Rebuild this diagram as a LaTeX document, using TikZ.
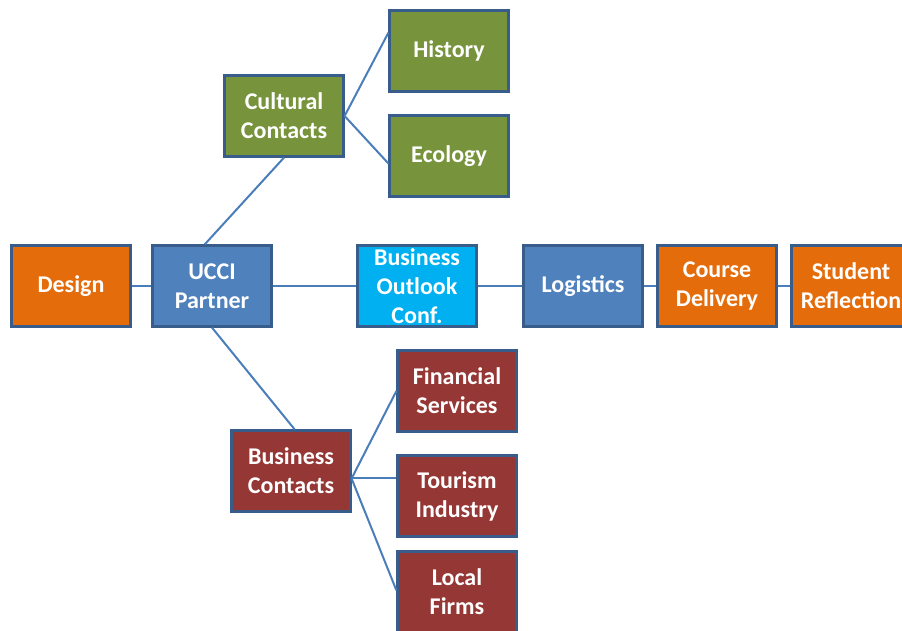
\documentclass[tikz,border=0pt]{standalone}
\usepackage{fontspec}
\setmainfont{Carlito}
\usetikzlibrary{calc}

\definecolor{borderblue}{HTML}{385D8A}
\definecolor{linkblue}{HTML}{4A7EBB}
\definecolor{boxorange}{HTML}{E46C0A}
\definecolor{boxblue}{HTML}{4F81BD}
\definecolor{boxcyan}{HTML}{00B0F0}
\definecolor{boxgreen}{HTML}{77933C}
\definecolor{boxred}{HTML}{953735}

\tikzset{
  stagebox/.style={draw=borderblue, line width=2.2pt, minimum width=119pt,
    minimum height=81pt, inner sep=0pt, text=white, align=center,
    font=\fontsize{24}{29}\selectfont\bfseries},
  link/.style={draw=linkblue, line width=2pt}
}

\begin{document}
\begin{tikzpicture}[x=1pt,y=-1pt]
    \useasboundingbox (0,0) rectangle (902,631);
    \clip (0,0) rectangle (902,631);

    % Main row
    \node[stagebox, fill=boxorange] (design) at (71,286) {Design};
    \node[stagebox, fill=boxblue] (ucci) at (212,286) {UCCI\\Partner};
    \node[stagebox, fill=boxcyan] (outlook) at (417,286) {Business\\Outlook\\Conf.};
    \node[stagebox, fill=boxblue] (logistics) at (583,286) {Logistics};
    \node[stagebox, fill=boxorange] (course) at (717,286) {Course\\Delivery};
    \node[stagebox, fill=boxorange] (reflection) at (851,286) {Student\\Reflection};

    % Cultural branch
    \node[stagebox, fill=boxgreen] (cultural) at (284,116) {Cultural\\Contacts};
    \node[stagebox, fill=boxgreen] (history) at (449,51) {History};
    \node[stagebox, fill=boxgreen] (ecology) at (449,156) {Ecology};

    % Business branch
    \node[stagebox, fill=boxred] (business) at (291,471) {Business\\Contacts};
    \node[stagebox, fill=boxred] (financial) at (457,391) {Financial\\Services};
    \node[stagebox, fill=boxred] (tourism) at (457,496) {Tourism\\Industry};
    \node[stagebox, fill=boxred] (local) at (457,592) {Local\\Firms};

    % Connectors
    \draw[link] (design) -- (ucci);
    \draw[link] (ucci) -- (outlook);
    \draw[link] (outlook) -- (logistics);
    \draw[link] (logistics) -- (course);
    \draw[link] (course) -- (reflection);
    \draw[link] ($(ucci.north west)!0.44!(ucci.north east)$) -- (cultural.south);
    \draw[link] (ucci.south) -- ($(business.north west)!0.53!(business.north east)$);
    \draw[link] (cultural.east) -- ($(history.north west)!0.28!(history.south west)$);
    \draw[link] (cultural.east) -- ($(ecology.north west)!0.59!(ecology.south west)$);
    \coordinate (fork) at ($(business.north east)!0.59!(business.south east)$);
    \draw[link] (fork) -- (financial.west);
    \draw[link] (fork) -- (fork -| tourism.west);
    \draw[link] (fork) -- ($(local.north west)!0.48!(local.south west)$);
\end{tikzpicture}
\end{document}
